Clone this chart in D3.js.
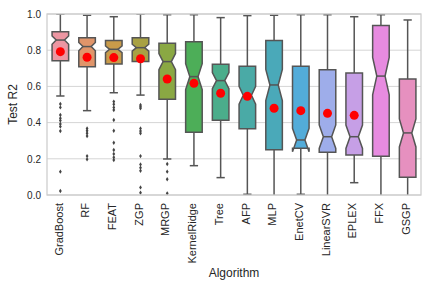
<!DOCTYPE html>
<html>
<head>
<meta charset="utf-8">
<script src="https://cdn.jsdelivr.net/npm/d3@7"></script>
<style>
	body { margin: 0; background: #fff; }
	text { font-family: "Liberation Sans", Arial, sans-serif; fill: #262626; }
</style>
</head>
<body>
<svg id="chart" width="432" height="288"></svg>
<script>

	var algorithms = [ 'GradBoost', 'RF', 'FEAT', 'ZGP', 'MRGP', 'KernelRidge', 'Tree',
			'AFP', 'MLP', 'EnetCV', 'LinearSVR', 'EPLEX', 'FFX', 'GSGP' ],
		colors = [ '#ec96a2', '#e0956a', '#c99b4a', '#a8a143', '#8aa843', '#4dae58', '#4bad8b',
			'#4aaaa6', '#4aa9b9', '#53acd9', '#9eadea', '#c69fe6', '#e78be0', '#e690bf' ],
		whiskerHigh = [ 1.0, 0.993, 0.985, 1.0, 0.996, 0.996, 0.98, 0.991, 0.993, 0.996, 0.996, 0.985, 0.996, 0.967 ],
		q3 = [ 0.902, 0.869, 0.853, 0.869, 0.838, 0.847, 0.722, 0.711, 0.853, 0.711, 0.692, 0.674, 0.936, 0.641 ],
		medians = [ 0.856, 0.82, 0.805, 0.814, 0.737, 0.654, 0.632, 0.551, 0.608, 0.304, 0.322, 0.322, 0.657, 0.343 ],
		q1 = [ 0.742, 0.709, 0.724, 0.737, 0.529, 0.346, 0.413, 0.366, 0.25, 0.258, 0.236, 0.221, 0.214, 0.098 ],
		whiskerLow = [ 0.547, 0.466, 0.565, 0.552, 0.199, 0.162, 0.096, 0.004, -0.3, 0.004, -0.3, 0.068, -0.4, -0.4 ],
		means = [ 0.792, 0.761, 0.759, 0.753, 0.641, 0.617, 0.562, 0.545, 0.479, 0.466, 0.451, 0.44, null, null ],
		fliers = [
			[ 0.503, 0.484, 0.442, 0.424, 0.411, 0.392, 0.378, 0.354, 0.129, 0.022 ],
			[ 0.368, 0.355, 0.341, 0.326, 0.215, 0.197 ],
			[ 0.516, 0.501, 0.484, 0.47, 0.414, 0.355, 0.289, 0.249, 0.227, 0.208, 0.193 ],
			[ 0.497, 0.488, 0.479, 0.368, 0.354, 0.341, 0.215, 0.169, 0.151, 0.134, 0.042, 0.013 ],
			[ 0.171, 0.129, 0.087, 0.009 ],
			[], [], [], [], [], [], [], [], []
		],
		yTicks = [ 0.0, 0.2, 0.4, 0.6, 0.8, 1.0 ],
		nDatasets = 121;

( function() {

	var pLeft = 47, pRight = 421, pTop = 14, pBottom = 195,
		edge = '#555555',
		font = '"Liberation Sans", Arial, sans-serif',
		svg = d3.select( '#chart' );

	var x = d3.scaleBand()
		.domain( algorithms )
		.range( [ pLeft, pRight ] );

	var y = d3.scaleLinear()
		.domain( [ 0, 1 ] )
		.range( [ pBottom, pTop ] );

	var boxW = x.bandwidth() * 0.62;

	// grid
	svg.append( 'g' )
		.selectAll( 'line' )
		.data( yTicks )
		.join( 'line' )
		.attr( 'x1', pLeft ).attr( 'x2', pRight )
		.attr( 'y1', d => y( d ) ).attr( 'y2', d => y( d ) )
		.attr( 'stroke', '#d5d5d5' )
		.attr( 'stroke-width', 1 );

	// y axis labels
	var yAxis = svg.append( 'g' )
		.attr( 'transform', 'translate(' + pLeft + ',0)' )
		.call( d3.axisLeft( y ).tickValues( yTicks ).tickFormat( d3.format( '.1f' ) ).tickSize( 0 ).tickPadding( 6 ) );
	yAxis.select( '.domain' ).remove();
	yAxis.selectAll( 'text' ).attr( 'font-size', 10 ).attr( 'fill', '#262626' ).attr( 'font-family', font );

	// x axis labels, rotated
	var xAxis = svg.append( 'g' )
		.attr( 'transform', 'translate(0,' + pBottom + ')' )
		.call( d3.axisBottom( x ).tickSize( 0 ).tickPadding( 0 ) );
	xAxis.select( '.domain' ).remove();
	xAxis.selectAll( 'text' )
		.attr( 'font-size', 11 ).attr( 'fill', '#262626' ).attr( 'font-family', font )
		.attr( 'text-anchor', 'end' )
		.attr( 'dy', '0.2em' )
		.attr( 'transform', 'translate(0,8) rotate(-90)' )
		.attr( 'x', 0 ).attr( 'y', 0 );

	svg.append( 'defs' ).append( 'clipPath' ).attr( 'id', 'plot' )
		.append( 'rect' )
		.attr( 'x', pLeft ).attr( 'y', pTop )
		.attr( 'width', pRight - pLeft ).attr( 'height', pBottom - pTop );

	var plot = svg.append( 'g' ).attr( 'clip-path', 'url(#plot)' );

	var boxes = algorithms.map( function( name, i ) {
		var notch = 1.57 * ( q3[ i ] - q1[ i ] ) / Math.sqrt( nDatasets );
		return {
			name: name,
			color: colors[ i ],
			hi: whiskerHigh[ i ], q3: q3[ i ], med: medians[ i ], q1: q1[ i ], lo: whiskerLow[ i ],
			notchHi: medians[ i ] + notch, notchLo: medians[ i ] - notch,
			mean: means[ i ],
			fliers: fliers[ i ]
		};
	} );

	var g = plot.selectAll( 'g.box' )
		.data( boxes )
		.join( 'g' )
		.attr( 'class', 'box' )
		.attr( 'transform', d => 'translate(' + ( x( d.name ) + x.bandwidth() / 2 ) + ',0)' );

	// whiskers
	g.append( 'line' )
		.attr( 'x1', 0 ).attr( 'x2', 0 )
		.attr( 'y1', d => y( d.q3 ) ).attr( 'y2', d => y( d.hi ) )
		.attr( 'stroke', edge ).attr( 'stroke-width', 1.5 );
	g.append( 'line' )
		.attr( 'x1', 0 ).attr( 'x2', 0 )
		.attr( 'y1', d => y( d.q1 ) ).attr( 'y2', d => y( d.lo ) )
		.attr( 'stroke', edge ).attr( 'stroke-width', 1.5 );

	// caps
	[ 'hi', 'lo' ].forEach( function( k ) {
		g.append( 'line' )
			.attr( 'x1', -boxW / 4 ).attr( 'x2', boxW / 4 )
			.attr( 'y1', d => y( d[ k ] ) ).attr( 'y2', d => y( d[ k ] ) )
			.attr( 'stroke', edge ).attr( 'stroke-width', 1.5 );
	} );

	// notched boxes
	g.append( 'path' )
		.attr( 'd', function( d ) {
			var l = -boxW / 2, r = boxW / 2, cl = -boxW / 4, cr = boxW / 4;
			var pts = [
				[ l, d.q1 ], [ r, d.q1 ], [ r, d.notchLo ], [ cr, d.med ], [ r, d.notchHi ],
				[ r, d.q3 ], [ l, d.q3 ], [ l, d.notchHi ], [ cl, d.med ], [ l, d.notchLo ]
			];
			return 'M' + pts.map( p => p[ 0 ] + ',' + y( p[ 1 ] ) ).join( 'L' ) + 'Z';
		} )
		.attr( 'fill', d => d.color )
		.attr( 'stroke', edge ).attr( 'stroke-width', 1.5 )
		.attr( 'stroke-linejoin', 'miter' );

	// median
	g.append( 'line' )
		.attr( 'x1', -boxW / 4 ).attr( 'x2', boxW / 4 )
		.attr( 'y1', d => y( d.med ) ).attr( 'y2', d => y( d.med ) )
		.attr( 'stroke', edge ).attr( 'stroke-width', 1.5 );

	// fliers
	g.selectAll( 'path.flier' )
		.data( d => d.fliers )
		.join( 'path' )
		.attr( 'class', 'flier' )
		.attr( 'd', v => 'M0,' + ( y( v ) - 2.2 ) + 'L1.4,' + y( v ) + 'L0,' + ( y( v ) + 2.2 ) + 'L-1.4,' + y( v ) + 'Z' )
		.attr( 'fill', '#444' );

	// means
	g.filter( d => d.mean !== null )
		.append( 'circle' )
		.attr( 'cx', 0 ).attr( 'cy', d => y( d.mean ) )
		.attr( 'r', 4.5 )
		.attr( 'fill', '#ff0000' );

	// frame
	svg.append( 'rect' )
		.attr( 'x', pLeft ).attr( 'y', pTop )
		.attr( 'width', pRight - pLeft ).attr( 'height', pBottom - pTop )
		.attr( 'fill', 'none' )
		.attr( 'stroke', '#cccccc' ).attr( 'stroke-width', 1.25 );

	svg.append( 'text' )
		.attr( 'transform', 'translate(17,' + ( ( pTop + pBottom ) / 2 ) + ') rotate(-90)' )
		.attr( 'text-anchor', 'middle' )
		.attr( 'font-size', 12 )
		.text( 'Test R2' );

	svg.append( 'text' )
		.attr( 'x', ( pLeft + pRight ) / 2 ).attr( 'y', 277 )
		.attr( 'text-anchor', 'middle' )
		.attr( 'font-size', 12 )
		.text( 'Algorithm' );

} )();

</script>
</body>
</html>
